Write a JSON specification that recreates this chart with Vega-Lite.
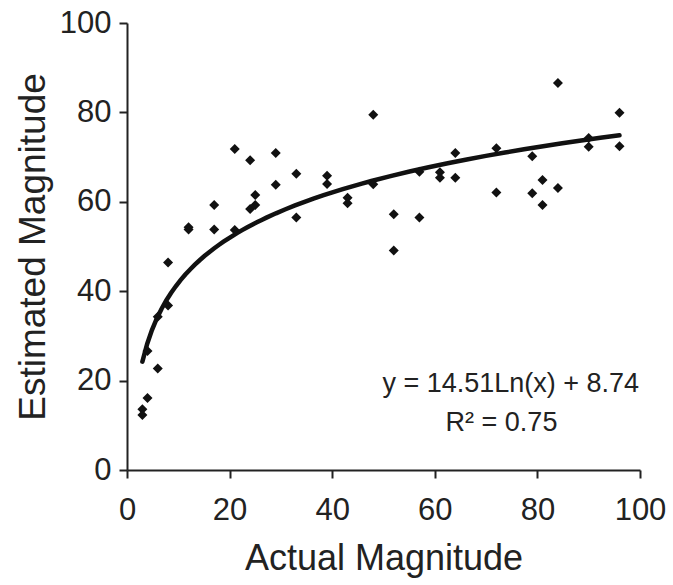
{
  "$schema": "https://vega.github.io/schema/vega-lite/v6.json",
  "width": 513,
  "height": 447,
  "autosize": "none",
  "padding": {"left": 127, "top": 23, "right": 33, "bottom": 115},
  "background": "white",
  "config": {
    "view": {"stroke": null},
    "font": "Liberation Sans",
    "axis": {
      "grid": false,
      "domainColor": "#222",
      "domainWidth": 2,
      "tickColor": "#222",
      "tickWidth": 2,
      "tickSize": 8,
      "labelFont": "Liberation Sans",
      "labelFontSize": 31,
      "labelColor": "#222",
      "labelFlush": false,
      "labelOverlap": false,
      "titleFont": "Liberation Sans",
      "titleFontSize": 36,
      "titleFontWeight": "normal",
      "titleColor": "#222"
    }
  },
  "datasets": {
    "pts": [
      {"actual": 3, "estimated": 13.6},
      {"actual": 3, "estimated": 12.3},
      {"actual": 4, "estimated": 16.1},
      {"actual": 4, "estimated": 26.6},
      {"actual": 6, "estimated": 22.7},
      {"actual": 6, "estimated": 34.3},
      {"actual": 8, "estimated": 36.8},
      {"actual": 8, "estimated": 46.4},
      {"actual": 12, "estimated": 54.3},
      {"actual": 12, "estimated": 53.8},
      {"actual": 17, "estimated": 59.3},
      {"actual": 17, "estimated": 53.8},
      {"actual": 21, "estimated": 71.8},
      {"actual": 21, "estimated": 53.7},
      {"actual": 24, "estimated": 69.3},
      {"actual": 24, "estimated": 58.4},
      {"actual": 25, "estimated": 59.3},
      {"actual": 25, "estimated": 61.5},
      {"actual": 29, "estimated": 70.9},
      {"actual": 29, "estimated": 63.8},
      {"actual": 33, "estimated": 66.3},
      {"actual": 33, "estimated": 56.5},
      {"actual": 39, "estimated": 65.8},
      {"actual": 39, "estimated": 64.0},
      {"actual": 43, "estimated": 60.9},
      {"actual": 43, "estimated": 59.7},
      {"actual": 48, "estimated": 79.5},
      {"actual": 48, "estimated": 63.9},
      {"actual": 52, "estimated": 57.2},
      {"actual": 52, "estimated": 49.1},
      {"actual": 57, "estimated": 66.7},
      {"actual": 57, "estimated": 56.5},
      {"actual": 61, "estimated": 66.6},
      {"actual": 61, "estimated": 65.4},
      {"actual": 64, "estimated": 70.9},
      {"actual": 64, "estimated": 65.4},
      {"actual": 72, "estimated": 72.0},
      {"actual": 72, "estimated": 62.1},
      {"actual": 79, "estimated": 70.2},
      {"actual": 79, "estimated": 61.9},
      {"actual": 81, "estimated": 64.9},
      {"actual": 81, "estimated": 59.3},
      {"actual": 84, "estimated": 86.6},
      {"actual": 84, "estimated": 63.1},
      {"actual": 90, "estimated": 74.3},
      {"actual": 90, "estimated": 72.3},
      {"actual": 96, "estimated": 79.9},
      {"actual": 96, "estimated": 72.4}
    ],
    "notes": [
      {"label": "y = 14.51Ln(x) + 8.74", "actual": 74.8, "estimated": 19.2},
      {"label": "R² = 0.75", "actual": 73.0, "estimated": 10.6}
    ]
  },
  "layer": [
    {
      "data": {"name": "pts"},
      "transform": [
        {"regression": "estimated", "on": "actual", "method": "log", "extent": [3, 96]}
      ],
      "mark": {"type": "line", "color": "#111", "strokeWidth": 4.5, "strokeCap": "round"},
      "encoding": {
        "x": {
          "field": "actual", "type": "quantitative",
          "scale": {"domain": [0, 100], "nice": false, "zero": true},
          "axis": {"values": [0, 20, 40, 60, 80, 100], "labelPadding": 17, "titlePadding": 16, "title": "Actual Magnitude"}
        },
        "y": {
          "field": "estimated", "type": "quantitative",
          "scale": {"domain": [0, 100], "nice": false},
          "axis": {"values": [0, 20, 40, 60, 80, 100], "labelPadding": 8, "titlePadding": 7, "titleFontSize": 37, "title": "Estimated Magnitude"}
        }
      }
    },
    {
      "data": {"name": "pts"},
      "mark": {"type": "point", "shape": "diamond", "filled": true, "color": "#111", "opacity": 1, "size": 100},
      "encoding": {
        "x": {"field": "actual", "type": "quantitative"},
        "y": {"field": "estimated", "type": "quantitative"}
      }
    },
    {
      "data": {"name": "notes"},
      "mark": {"type": "text", "fontSize": 27, "font": "Liberation Sans", "color": "#222", "align": "center", "baseline": "middle"},
      "encoding": {
        "x": {"field": "actual", "type": "quantitative"},
        "y": {"field": "estimated", "type": "quantitative"},
        "text": {"field": "label"}
      }
    }
  ]
}
